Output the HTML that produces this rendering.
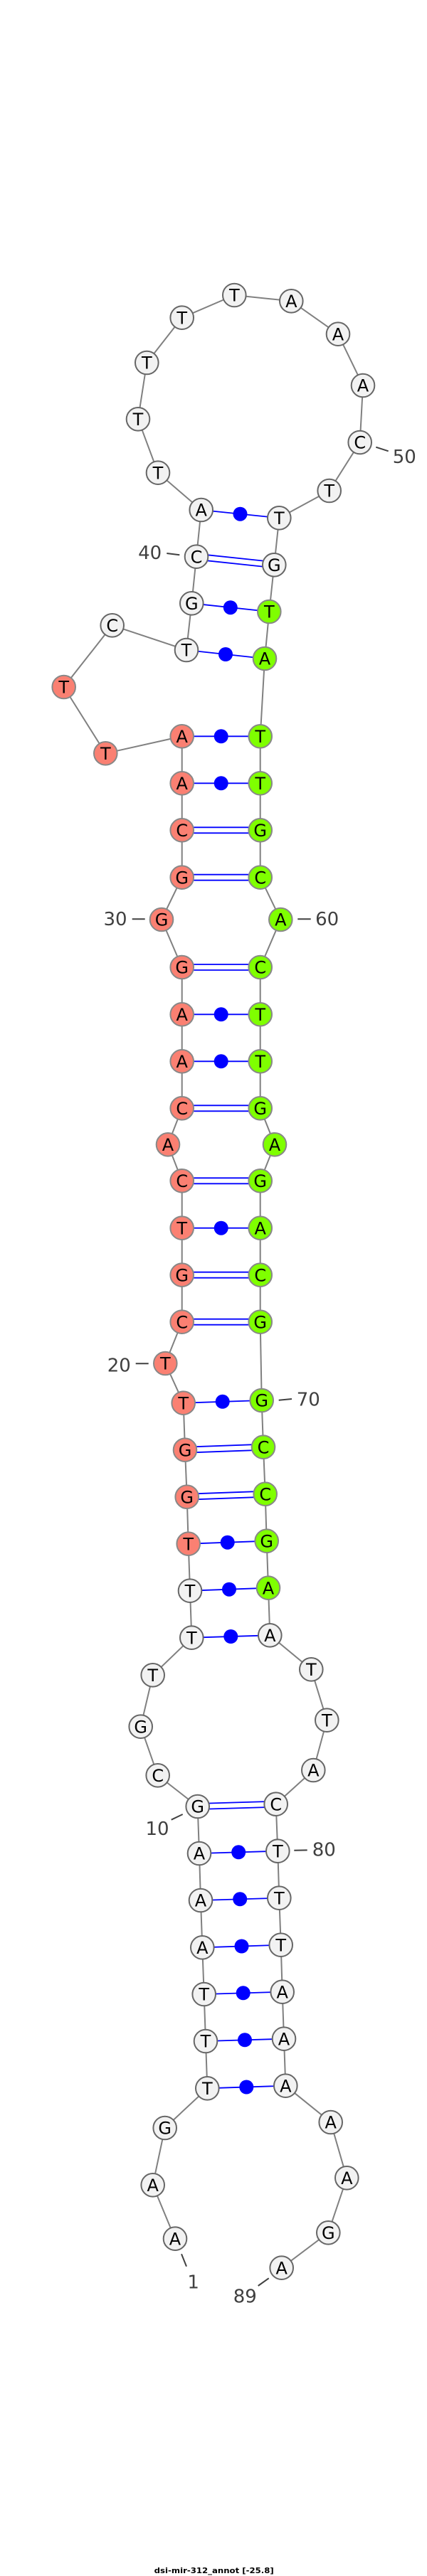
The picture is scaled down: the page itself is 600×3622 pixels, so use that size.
<!DOCTYPE html>
<html><head><meta charset="utf-8"><title>dsi-mir-312_annot</title>
<style>
html,body{margin:0;padding:0;background:#fff;width:600px;height:3622px;overflow:hidden}
svg{display:block}
.b{fill:none;stroke:#808080;stroke-width:2}
.p{stroke:#0000ff;stroke-width:1.8;fill:none}
.d{fill:#0000ff}
.w{fill:#f2f2f2;stroke:#666;stroke-width:2}
.s{fill:#fa8072;stroke:#888;stroke-width:2}
.g{fill:#7fff00;stroke:#888;stroke-width:2}
.n text,text.t{font-family:"DejaVu Sans",sans-serif;font-size:24px;text-anchor:middle;fill:#000}
.l{font-family:"DejaVu Sans",sans-serif;font-size:26px;text-anchor:middle;fill:#404040}
.k{stroke:#404040;stroke-width:2;fill:none}
</style></head><body>
<svg xmlns="http://www.w3.org/2000/svg" width="600" height="3622" viewBox="0 0 600 3622">
<polyline class="b" points="246,3147.7 214.7,3072.3 231.7,2992 291.3,2936.3 289,2870 286.7,2804 284.3,2738.3 282,2672 280,2606 277.7,2540 221.7,2496.3 197.7,2427.7 214.7,2355.3 269.3,2302.7 267,2236.7 264.7,2170.7 262.7,2104.7 260,2038.7 257.7,1972.7 232.3,1917 255.7,1858.7 255.7,1792.7 255.7,1726.7 255.7,1660.3 236,1609.3 255.7,1558.3 255.7,1492.3 255.7,1426.3 255.7,1360 227,1293 255.7,1233.7 255.7,1167.3 255.7,1101.3 255.7,1035.3 148.3,1059.3 89.7,966 157.7,879.3 262,914 269.3,848.3 276,782.7 282.7,717 222,664.7 194,589.3 206.3,510 255.7,446.7 329.3,415 409.3,423.3 475,469.7 510,542 505.7,622 462.7,690 392.3,728.3 385.3,794.3 378.3,860 372,926 365.7,1035.3 365.7,1101.3 365.7,1167.3 365.7,1233.7 394.3,1293 365.7,1360 365.7,1426.3 365.7,1492.3 365.7,1558.3 386,1609.3 365.7,1660.3 365.7,1726.7 365.7,1792.7 365.7,1858.7 367.7,1969 370,2034.7 372.7,2100.7 374.7,2166.7 377,2232.7 379.3,2299.3 437.3,2347.3 459.3,2418.7 440.3,2489 387.7,2536.7 390.3,2602.7 392.3,2668.7 394.7,2734.7 396.7,2800.7 399,2866.7 401.3,2932.7 464.7,2984 487.3,3062.3 461.3,3139.3 395.7,3188.7"/>

<!-- single-dot pairs -->
<g class="p">
<line x1="291.3" y1="2936.3" x2="401.3" y2="2932.7"/>
<line x1="289" y1="2870" x2="399" y2="2866.7"/>
<line x1="286.7" y1="2804" x2="396.7" y2="2800.7"/>
<line x1="284.3" y1="2738.3" x2="394.7" y2="2734.7"/>
<line x1="282" y1="2672" x2="392.3" y2="2668.7"/>
<line x1="280" y1="2606" x2="390.3" y2="2602.7"/>
<line x1="269.3" y1="2302.7" x2="379.3" y2="2299.3"/>
<line x1="267" y1="2236.7" x2="377" y2="2232.7"/>
<line x1="264.7" y1="2170.7" x2="374.7" y2="2166.7"/>
<line x1="257.7" y1="1972.7" x2="367.7" y2="1969"/>
<line x1="255.7" y1="1726.7" x2="365.7" y2="1726.7"/>
<line x1="255.7" y1="1492.3" x2="365.7" y2="1492.3"/>
<line x1="255.7" y1="1426.3" x2="365.7" y2="1426.3"/>
<line x1="255.7" y1="1101.3" x2="365.7" y2="1101.3"/>
<line x1="255.7" y1="1035.3" x2="365.7" y2="1035.3"/>
<line x1="262" y1="914" x2="372" y2="926"/>
<line x1="269.3" y1="848.3" x2="378.3" y2="860"/>
<line x1="282.7" y1="717" x2="392.3" y2="728.3"/>
<!-- double pairs -->
<line x1="277.6" y1="2536" x2="387.6" y2="2532.7"/>
<line x1="277.8" y1="2544" x2="387.8" y2="2540.7"/>
<line x1="262.6" y1="2100.7" x2="372.6" y2="2096.7"/>
<line x1="262.8" y1="2108.7" x2="372.8" y2="2104.7"/>
<line x1="259.9" y1="2034.7" x2="369.9" y2="2030.7"/>
<line x1="260.1" y1="2042.7" x2="370.1" y2="2038.7"/>
<line x1="255.7" y1="1854.7" x2="365.7" y2="1854.7"/>
<line x1="255.7" y1="1862.7" x2="365.7" y2="1862.7"/>
<line x1="255.7" y1="1788.7" x2="365.7" y2="1788.7"/>
<line x1="255.7" y1="1796.7" x2="365.7" y2="1796.7"/>
<line x1="255.7" y1="1656.3" x2="365.7" y2="1656.3"/>
<line x1="255.7" y1="1664.3" x2="365.7" y2="1664.3"/>
<line x1="255.7" y1="1554.3" x2="365.7" y2="1554.3"/>
<line x1="255.7" y1="1562.3" x2="365.7" y2="1562.3"/>
<line x1="255.7" y1="1356" x2="365.7" y2="1356"/>
<line x1="255.7" y1="1364" x2="365.7" y2="1364"/>
<line x1="255.7" y1="1229.7" x2="365.7" y2="1229.7"/>
<line x1="255.7" y1="1237.7" x2="365.7" y2="1237.7"/>
<line x1="255.7" y1="1163.3" x2="365.7" y2="1163.3"/>
<line x1="255.7" y1="1171.3" x2="365.7" y2="1171.3"/>
<line x1="276.4" y1="778.7" x2="385.7" y2="790.3"/>
<line x1="275.6" y1="786.7" x2="384.9" y2="798.3"/>
</g>
<g class="d">
<circle cx="346.3" cy="2934.5" r="10"/>
<circle cx="344" cy="2868.3" r="10"/>
<circle cx="341.7" cy="2802.3" r="10"/>
<circle cx="339.5" cy="2736.5" r="10"/>
<circle cx="337.2" cy="2670.3" r="10"/>
<circle cx="335.2" cy="2604.3" r="10"/>
<circle cx="324.3" cy="2301" r="10"/>
<circle cx="322" cy="2234.7" r="10"/>
<circle cx="319.7" cy="2168.7" r="10"/>
<circle cx="312.7" cy="1970.8" r="10"/>
<circle cx="310.7" cy="1726.7" r="10"/>
<circle cx="310.7" cy="1492.3" r="10"/>
<circle cx="310.7" cy="1426.3" r="10"/>
<circle cx="310.7" cy="1101.3" r="10"/>
<circle cx="310.7" cy="1035.3" r="10"/>
<circle cx="317" cy="920" r="10"/>
<circle cx="323.8" cy="854.2" r="10"/>
<circle cx="337.5" cy="722.7" r="10"/>
</g>

<!-- ticks -->
<g class="k">
<line x1="255" y1="3169.3" x2="262" y2="3186.7"/>
<line x1="240.7" y1="2558.7" x2="256.7" y2="2551"/>
<line x1="190.7" y1="1917.3" x2="208.7" y2="1917.3"/>
<line x1="185.7" y1="1292.3" x2="203.7" y2="1292.3"/>
<line x1="234.3" y1="778" x2="252.3" y2="780.3"/>
<line x1="528.3" y1="628.7" x2="545.7" y2="634.3"/>
<line x1="418.3" y1="1292.3" x2="436.7" y2="1292.3"/>
<line x1="391.7" y1="1968.7" x2="410" y2="1967"/>
<line x1="413.3" y1="2601.7" x2="431.7" y2="2601.4"/>
<line x1="362.7" y1="3214" x2="377.7" y2="3203.3"/>
</g>
<text class="l" x="271.7" y="3217.5">1</text>
<text class="l" x="221" y="2580">10</text>
<text class="l" x="167.3" y="1928.7">20</text>
<text class="l" x="162" y="1301">30</text>
<text class="l" x="210.7" y="786">40</text>
<text class="l" x="568.3" y="651">50</text>
<text class="l" x="459.7" y="1301">60</text>
<text class="l" x="433.3" y="1976.7">70</text>
<text class="l" x="455.3" y="2609.4">80</text>
<text class="l" x="344.3" y="3237.4">89</text>

<!-- nodes -->
<g class="n">
<circle class="w" cx="246" cy="3147.7" r="16.3"/><text x="246" y="3156.4">A</text>
<circle class="w" cx="214.7" cy="3072.3" r="16.3"/><text x="214.7" y="3081">A</text>
<circle class="w" cx="231.7" cy="2992" r="16.3"/><text x="231.7" y="3000.7">G</text>
<circle class="w" cx="291.3" cy="2936.3" r="16.3"/><text x="291.3" y="2945">T</text>
<circle class="w" cx="289" cy="2870" r="16.3"/><text x="289" y="2878.7">T</text>
<circle class="w" cx="286.7" cy="2804" r="16.3"/><text x="286.7" y="2812.7">T</text>
<circle class="w" cx="284.3" cy="2738.3" r="16.3"/><text x="284.3" y="2747">A</text>
<circle class="w" cx="282" cy="2672" r="16.3"/><text x="282" y="2680.7">A</text>
<circle class="w" cx="280" cy="2606" r="16.3"/><text x="280" y="2614.7">A</text>
<circle class="w" cx="277.7" cy="2540" r="16.3"/><text x="277.7" y="2548.7">G</text>
<circle class="w" cx="221.7" cy="2496.3" r="16.3"/><text x="221.7" y="2505">C</text>
<circle class="w" cx="197.7" cy="2427.7" r="16.3"/><text x="197.7" y="2436.4">G</text>
<circle class="w" cx="214.7" cy="2355.3" r="16.3"/><text x="214.7" y="2364">T</text>
<circle class="w" cx="269.3" cy="2302.7" r="16.3"/><text x="269.3" y="2311.4">T</text>
<circle class="w" cx="267" cy="2236.7" r="16.3"/><text x="267" y="2245.4">T</text>
<circle class="s" cx="264.7" cy="2170.7" r="16.3"/><text x="264.7" y="2179.4">T</text>
<circle class="s" cx="262.7" cy="2104.7" r="16.3"/><text x="262.7" y="2113.4">G</text>
<circle class="s" cx="260" cy="2038.7" r="16.3"/><text x="260" y="2047.4">G</text>
<circle class="s" cx="257.7" cy="1972.7" r="16.3"/><text x="257.7" y="1981.4">T</text>
<circle class="s" cx="232.3" cy="1917" r="16.3"/><text x="232.3" y="1925.7">T</text>
<circle class="s" cx="255.7" cy="1858.7" r="16.3"/><text x="255.7" y="1867.4">C</text>
<circle class="s" cx="255.7" cy="1792.7" r="16.3"/><text x="255.7" y="1801.4">G</text>
<circle class="s" cx="255.7" cy="1726.7" r="16.3"/><text x="255.7" y="1735.4">T</text>
<circle class="s" cx="255.7" cy="1660.3" r="16.3"/><text x="255.7" y="1669">C</text>
<circle class="s" cx="236" cy="1609.3" r="16.3"/><text x="236" y="1618">A</text>
<circle class="s" cx="255.7" cy="1558.3" r="16.3"/><text x="255.7" y="1567">C</text>
<circle class="s" cx="255.7" cy="1492.3" r="16.3"/><text x="255.7" y="1501">A</text>
<circle class="s" cx="255.7" cy="1426.3" r="16.3"/><text x="255.7" y="1435">A</text>
<circle class="s" cx="255.7" cy="1360" r="16.3"/><text x="255.7" y="1368.7">G</text>
<circle class="s" cx="227" cy="1293" r="16.3"/><text x="227" y="1301.7">G</text>
<circle class="s" cx="255.7" cy="1233.7" r="16.3"/><text x="255.7" y="1242.4">G</text>
<circle class="s" cx="255.7" cy="1167.3" r="16.3"/><text x="255.7" y="1176">C</text>
<circle class="s" cx="255.7" cy="1101.3" r="16.3"/><text x="255.7" y="1110">A</text>
<circle class="s" cx="255.7" cy="1035.3" r="16.3"/><text x="255.7" y="1044">A</text>
<circle class="s" cx="148.3" cy="1059.3" r="16.3"/><text x="148.3" y="1068">T</text>
<circle class="s" cx="89.7" cy="966" r="16.3"/><text x="89.7" y="974.7">T</text>
<circle class="w" cx="157.7" cy="879.3" r="16.3"/><text x="157.7" y="888">C</text>
<circle class="w" cx="262" cy="914" r="16.3"/><text x="262" y="922.7">T</text>
<circle class="w" cx="269.3" cy="848.3" r="16.3"/><text x="269.3" y="857">G</text>
<circle class="w" cx="276" cy="782.7" r="16.3"/><text x="276" y="791.4">C</text>
<circle class="w" cx="282.7" cy="717" r="16.3"/><text x="282.7" y="725.7">A</text>
<circle class="w" cx="222" cy="664.7" r="16.3"/><text x="222" y="673.4">T</text>
<circle class="w" cx="194" cy="589.3" r="16.3"/><text x="194" y="598">T</text>
<circle class="w" cx="206.3" cy="510" r="16.3"/><text x="206.3" y="518.7">T</text>
<circle class="w" cx="255.7" cy="446.7" r="16.3"/><text x="255.7" y="455.4">T</text>
<circle class="w" cx="329.3" cy="415" r="16.3"/><text x="329.3" y="423.7">T</text>
<circle class="w" cx="409.3" cy="423.3" r="16.3"/><text x="409.3" y="432">A</text>
<circle class="w" cx="475" cy="469.7" r="16.3"/><text x="475" y="478.4">A</text>
<circle class="w" cx="510" cy="542" r="16.3"/><text x="510" y="550.7">A</text>
<circle class="w" cx="505.7" cy="622" r="16.3"/><text x="505.7" y="630.7">C</text>
<circle class="w" cx="462.7" cy="690" r="16.3"/><text x="462.7" y="698.7">T</text>
<circle class="w" cx="392.3" cy="728.3" r="16.3"/><text x="392.3" y="737">T</text>
<circle class="w" cx="385.3" cy="794.3" r="16.3"/><text x="385.3" y="803">G</text>
<circle class="g" cx="378.3" cy="860" r="16.3"/><text x="378.3" y="868.7">T</text>
<circle class="g" cx="372" cy="926" r="16.3"/><text x="372" y="934.7">A</text>
<circle class="g" cx="365.7" cy="1035.3" r="16.3"/><text x="365.7" y="1044">T</text>
<circle class="g" cx="365.7" cy="1101.3" r="16.3"/><text x="365.7" y="1110">T</text>
<circle class="g" cx="365.7" cy="1167.3" r="16.3"/><text x="365.7" y="1176">G</text>
<circle class="g" cx="365.7" cy="1233.7" r="16.3"/><text x="365.7" y="1242.4">C</text>
<circle class="g" cx="394.3" cy="1293" r="16.3"/><text x="394.3" y="1301.7">A</text>
<circle class="g" cx="365.7" cy="1360" r="16.3"/><text x="365.7" y="1368.7">C</text>
<circle class="g" cx="365.7" cy="1426.3" r="16.3"/><text x="365.7" y="1435">T</text>
<circle class="g" cx="365.7" cy="1492.3" r="16.3"/><text x="365.7" y="1501">T</text>
<circle class="g" cx="365.7" cy="1558.3" r="16.3"/><text x="365.7" y="1567">G</text>
<circle class="g" cx="386" cy="1609.3" r="16.3"/><text x="386" y="1618">A</text>
<circle class="g" cx="365.7" cy="1660.3" r="16.3"/><text x="365.7" y="1669">G</text>
<circle class="g" cx="365.7" cy="1726.7" r="16.3"/><text x="365.7" y="1735.4">A</text>
<circle class="g" cx="365.7" cy="1792.7" r="16.3"/><text x="365.7" y="1801.4">C</text>
<circle class="g" cx="365.7" cy="1858.7" r="16.3"/><text x="365.7" y="1867.4">G</text>
<circle class="g" cx="367.7" cy="1969" r="16.3"/><text x="367.7" y="1977.7">G</text>
<circle class="g" cx="370" cy="2034.7" r="16.3"/><text x="370" y="2043.4">C</text>
<circle class="g" cx="372.7" cy="2100.7" r="16.3"/><text x="372.7" y="2109.4">C</text>
<circle class="g" cx="374.7" cy="2166.7" r="16.3"/><text x="374.7" y="2175.4">G</text>
<circle class="g" cx="377" cy="2232.7" r="16.3"/><text x="377" y="2241.4">A</text>
<circle class="w" cx="379.3" cy="2299.3" r="16.3"/><text x="379.3" y="2308">A</text>
<circle class="w" cx="437.3" cy="2347.3" r="16.3"/><text x="437.3" y="2356">T</text>
<circle class="w" cx="459.3" cy="2418.7" r="16.3"/><text x="459.3" y="2427.4">T</text>
<circle class="w" cx="440.3" cy="2489" r="16.3"/><text x="440.3" y="2497.7">A</text>
<circle class="w" cx="387.7" cy="2536.7" r="16.3"/><text x="387.7" y="2545.4">C</text>
<circle class="w" cx="390.3" cy="2602.7" r="16.3"/><text x="390.3" y="2611.4">T</text>
<circle class="w" cx="392.3" cy="2668.7" r="16.3"/><text x="392.3" y="2677.4">T</text>
<circle class="w" cx="394.7" cy="2734.7" r="16.3"/><text x="394.7" y="2743.4">T</text>
<circle class="w" cx="396.7" cy="2800.7" r="16.3"/><text x="396.7" y="2809.4">A</text>
<circle class="w" cx="399" cy="2866.7" r="16.3"/><text x="399" y="2875.4">A</text>
<circle class="w" cx="401.3" cy="2932.7" r="16.3"/><text x="401.3" y="2941.4">A</text>
<circle class="w" cx="464.7" cy="2984" r="16.3"/><text x="464.7" y="2992.7">A</text>
<circle class="w" cx="487.3" cy="3062.3" r="16.3"/><text x="487.3" y="3071">A</text>
<circle class="w" cx="461.3" cy="3139.3" r="16.3"/><text x="461.3" y="3148">G</text>
<circle class="w" cx="395.7" cy="3188.7" r="16.3"/><text x="395.7" y="3197.4">A</text>
</g>
<text x="216.7" y="3618" textLength="168" lengthAdjust="spacingAndGlyphs" style="font-family:'DejaVu Sans',sans-serif;font-weight:bold;font-size:11px;fill:#000">dsi-mir-312_annot [-25.8]</text>
</svg>
</body></html>
